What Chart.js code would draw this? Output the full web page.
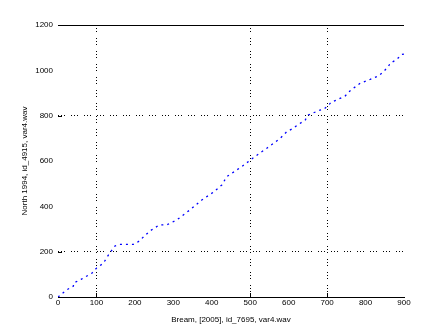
<!DOCTYPE html>
<html>
<head>
<meta charset="utf-8">
<script src="https://cdn.jsdelivr.net/npm/chart.js@4"></script>
<style>
html,body{margin:0;padding:0;background:#fff;}
#wrap{width:447px;height:335px;position:relative;}
</style>
</head>
<body>
<div id="wrap"><canvas id="c" width="447" height="335"></canvas></div>
<script>
const xValues = [0, 22, 40, 41, 60, 88, 100, 118, 131, 148, 161, 196, 209, 239, 261, 265, 283, 309, 343, 374, 404, 426, 439, 478, 500, 530, 543, 578, 595, 608, 643, 651, 682, 692, 706, 712, 725, 747, 760, 786, 812, 833, 844, 859, 864, 881, 894, 900];
const yValues = [0, 31, 48, 62, 78, 105, 127, 149, 185, 225, 232, 232, 244, 291, 315, 318, 318, 340, 384, 428, 462, 494, 531, 575, 604, 641, 656, 700, 729, 741, 781, 803, 825, 829, 851, 861, 869, 887, 910, 943, 960, 975, 990, 1016, 1031, 1048, 1070, 1072];
const xTicks = [0, 100, 200, 300, 400, 500, 600, 700, 800, 900];
const yTicks = [0, 200, 400, 600, 800, 1000, 1200];
const xGridAt = [100, 500, 700];
const yGridAt = [200, 800];
const xTitle = "Bream, [2005], id_7695, var4.wav";
const yTitle = "North 1994, id_4915, var4.wav";

const points = xValues.map((x, i) => ({x: x, y: yValues[i]}));
const FONT = {family: "'Liberation Sans', Arial, sans-serif", size: 8};

const innerTicks = {
  id: 'innerTicks',
  afterDraw(chart) {
    const {ctx, chartArea: a, scales: {x, y}} = chart;
    ctx.save();
    ctx.strokeStyle = '#000';
    ctx.lineWidth = 1;
    ctx.beginPath();
    ctx.moveTo(a.left, Math.round(a.top) + 0.5);
    ctx.lineTo(a.right, Math.round(a.top) + 0.5);
    xGridAt.forEach(v => {
      const px = Math.round(x.getPixelForValue(v)) + 0.5;
      ctx.moveTo(px, a.bottom); ctx.lineTo(px, a.bottom - 4);
    });
    yGridAt.forEach(v => {
      const py = Math.round(y.getPixelForValue(v)) + 0.5;
      ctx.moveTo(a.left, py); ctx.lineTo(a.left + 4, py);
    });
    ctx.stroke();
    ctx.restore();
  }
};

new Chart(document.getElementById('c'), {
  type: 'scatter',
  data: {
    datasets: [{
      data: points,
      showLine: true,
      borderColor: '#0000ff',
      backgroundColor: '#0000ff',
      borderWidth: 1.3,
      borderDash: [2, 4],
      pointRadius: 0,
      tension: 0
    }]
  },
  options: {
    responsive: false,
    animation: false,
    layout: {padding: {left: 20, right: 43, top: 25, bottom: 10}},
    plugins: {legend: {display: false}, tooltip: {enabled: false}},
    scales: {
      x: {
        type: 'linear', min: 0, max: 900,
        afterBuildTicks: s => { s.ticks = xTicks.map(v => ({value: v})); },
        afterFit: s => { s.height = 28; },
        ticks: {color: '#000', font: FONT, padding: 1, maxRotation: 0, callback: v => String(v)},
        grid: {
          drawTicks: false,
          color: c => xGridAt.includes(c.tick && c.tick.value) ? '#000' : 'rgba(0,0,0,0)',
          lineWidth: 1
        },
        border: {display: true, color: '#000', width: 1, dash: [1, 2, 1, 2, 1, 6]},
        title: {display: true, text: xTitle, color: '#000', font: FONT, padding: {top: 2, bottom: 0}}
      },
      y: {
        type: 'linear', min: 0, max: 1200,
        afterBuildTicks: s => { s.ticks = yTicks.map(v => ({value: v})); },
        afterFit: s => { s.width = 38; },
        ticks: {color: '#000', font: FONT, padding: 5, callback: v => String(v)},
        grid: {
          drawTicks: false,
          color: c => yGridAt.includes(c.tick && c.tick.value) ? '#000' : 'rgba(0,0,0,0)',
          lineWidth: 1
        },
        border: {display: false, dash: [1, 2, 1, 2, 1, 6]},
        title: {display: true, text: yTitle, color: '#000', font: FONT, padding: {top: 0, bottom: 0}}
      }
    }
  },
  plugins: [innerTicks]
});
</script>
</body>
</html>
